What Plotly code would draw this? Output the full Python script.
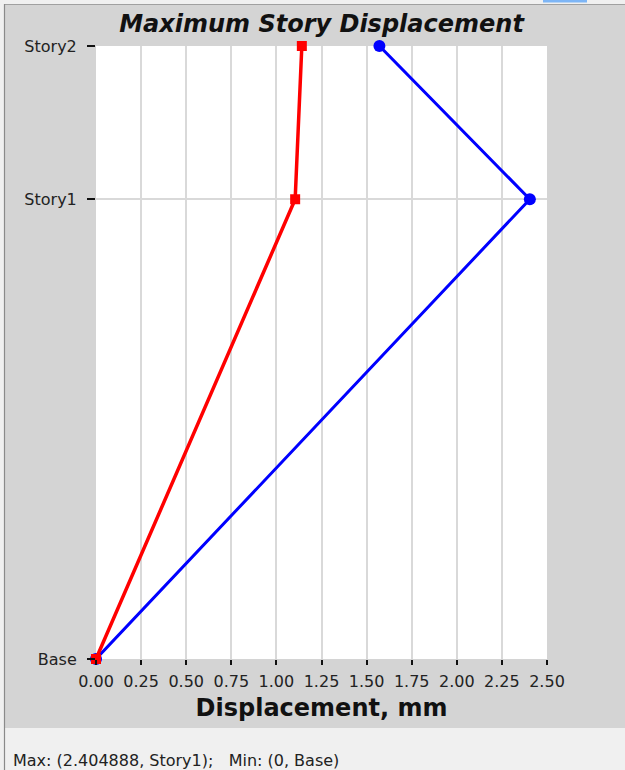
import plotly.graph_objects as go

# ---- data ----
story_labels = ["Base", "Story1", "Story2"]
story_elev = [0.0, 4.5, 6.0]
disp_red = [0.0, 1.104, 1.141]
disp_blue = [0.0, 2.404888, 1.571]
x_ticks = [0.0, 0.25, 0.5, 0.75, 1.0, 1.25, 1.5, 1.75, 2.0, 2.25, 2.5]

W, H = 625, 770
L, R, T, B = 96, 78, 46, 111
PW, PH = W - L - R, H - T - B

def px(x):
    return (x - L) / PW

def py(y):
    return (H - B - y) / PH

fig = go.Figure()
fig.add_trace(go.Scatter(
    x=disp_blue, y=story_elev, mode="lines+markers",
    line=dict(color="#0000ff", width=3),
    marker=dict(symbol="circle", size=12, color="#0000ff"),
    cliponaxis=False, showlegend=False))
fig.add_trace(go.Scatter(
    x=disp_red, y=story_elev, mode="lines+markers",
    line=dict(color="#ff0000", width=3.5),
    marker=dict(symbol="square", size=10, color="#ff0000"),
    cliponaxis=False, showlegend=False))

tick_font = dict(family="DejaVu Sans", size=16, color="#222222")

fig.update_xaxes(
    range=[0, 2.5], tickvals=x_ticks, tickformat=".2f",
    ticks="outside", ticklen=5, tickwidth=2, tickcolor="#111111",
    showgrid=True, gridcolor="#d9d9d9", gridwidth=1.5,
    zeroline=False, showline=False, tickfont=tick_font,
    ticklabelstandoff=3,
    title=dict(text="<b>Displacement, mm</b>", standoff=8,
               font=dict(family="DejaVu Sans", size=24, color="#111111")))
fig.update_yaxes(
    range=[0, 6], tickvals=story_elev, ticktext=story_labels,
    ticks="outside", ticklen=8, tickwidth=1.5, tickcolor="#111111",
    showgrid=True, gridcolor="#d9d9d9", gridwidth=1.5,
    zeroline=False, showline=False, tickfont=tick_font,
    ticklabelstandoff=7)

shapes = []
# top light strip and line
shapes.append(dict(type="rect", xref="paper", yref="paper", x0=px(0), x1=px(W), y0=py(0), y1=py(4),
                   fillcolor="#f0f0f0", line=dict(width=0), layer="above"))
shapes.append(dict(type="rect", xref="paper", yref="paper", x0=px(543), x1=px(587), y0=py(0), y1=py(2.5),
                   fillcolor="#7db5f5", line=dict(width=0), layer="above"))
shapes.append(dict(type="line", xref="paper", yref="paper", x0=px(4), x1=px(W), y0=py(4.5), y1=py(4.5),
                   line=dict(color="#a0a0a0", width=1.2), layer="above"))
# bottom light strip
shapes.append(dict(type="rect", xref="paper", yref="paper", x0=px(4), x1=px(W), y0=py(728), y1=py(H),
                   fillcolor="#f0f0f0", line=dict(width=0), layer="above"))
# left light strip and line
shapes.append(dict(type="rect", xref="paper", yref="paper", x0=px(0), x1=px(4), y0=py(0), y1=py(H),
                   fillcolor="#f0f0f0", line=dict(width=0), layer="above"))
shapes.append(dict(type="line", xref="paper", yref="paper", x0=px(4.5), x1=px(4.5), y0=py(4), y1=py(H),
                   line=dict(color="#8a8a8a", width=1.2), layer="above"))

fig.update_layout(
    width=W, height=H,
    margin=dict(l=L, r=R, t=T, b=B),
    paper_bgcolor="#d4d4d4", plot_bgcolor="#ffffff",
    title=dict(text="<b><i>Maximum Story Displacement</i></b>",
               x=0.5, xref="paper", xanchor="center",
               y=1 - 24 / H, yref="container", yanchor="middle",
               font=dict(family="DejaVu Sans", size=24, color="#111111")),
    shapes=shapes,
    annotations=[dict(text="Max: (2.404888, Story1);&nbsp;&nbsp;&nbsp;Min: (0, Base)",
                      xref="paper", yref="paper", x=px(11), y=py(760),
                      xanchor="left", yanchor="middle", showarrow=False,
                      font=dict(family="DejaVu Sans", size=16, color="#222222"))],
)

fig.write_html("out.html", config={"displayModeBar": False},
               post_script="document.body.style.margin='0';document.body.style.overflow='hidden';")
